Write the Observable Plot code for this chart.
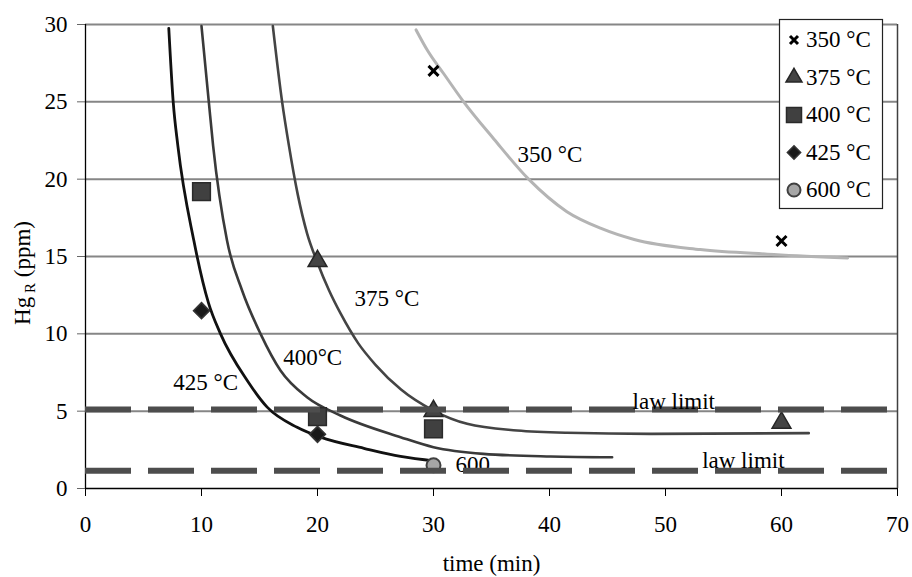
<!DOCTYPE html>
<html><head><meta charset="utf-8">
<script src="https://cdn.jsdelivr.net/npm/d3@7"></script>
<script src="https://cdn.jsdelivr.net/npm/@observablehq/plot@0.6"></script>
<style>
html,body{margin:0;padding:0;background:#fff;}
#chart{position:relative;width:912px;height:577px;}
</style></head><body><div id="chart"></div>
<script>
// ---- data ----
const seriesNames = ["350 °C", "375 °C", "400 °C", "425 °C", "600 °C"];
const t350 = [30, 60],        hg350 = [27.0, 16.0];
const t375 = [20, 30, 60],    hg375 = [14.7, 5.0, 4.25];
const t400 = [10, 20, 30],    hg400 = [19.2, 4.65, 3.85];
const t425 = [10, 20],        hg425 = [11.5, 3.5];
const t600 = [30],            hg600 = [1.5];

// fitted curves
const fit350T = [28.5, 29.5, 30.9, 32.6, 35.2, 38.2, 41.5, 44.5, 47.3, 53.0, 58.8, 65.7];
const fit350H = [29.65, 28.3, 26.8, 25.0, 22.6, 20.0, 17.9, 16.8, 16.1, 15.45, 15.15, 14.91];
const fit375T = [16.15, 16.95, 17.53, 18.3, 19.1, 20.0, 21.0, 22.0, 23.5, 25.0, 27.2, 30.0, 32.9, 37.2, 41.5, 48.7, 62.35];
const fit375H = [29.9, 25.0, 22.2, 19.0, 16.5, 14.6, 12.8, 11.3, 9.4, 8.0, 6.4, 5.04, 4.18, 3.75, 3.6, 3.53, 3.58];
const fit400T = [10.0, 10.63, 11.0, 12.2, 13.5, 15.09, 16.81, 19.1, 21.98, 27.16, 30.0, 34.3, 40.1, 45.4];
const fit400H = [29.9, 25.0, 22.17, 16.03, 12.8, 10.0, 7.63, 5.9, 4.72, 3.32, 2.67, 2.24, 2.07, 2.02];
const fit425T = [7.18, 7.56, 7.96, 9.34, 10.6, 11.64, 13.94, 15.66, 18.24, 20.26, 24.0, 27.16, 30.17];
const fit425H = [29.75, 25.0, 22.17, 16.03, 12.0, 10.0, 6.98, 5.26, 3.96, 3.32, 2.6, 2.07, 1.77];

const lawLimits = [5.1, 1.15];
const xTicks = [0, 10, 20, 30, 40, 50, 60, 70];
const yTicks = [0, 5, 10, 15, 20, 25, 30];

const curveLabelText = ["350 °C", "375 °C", "400°C", "425 °C", "600"];
const curveLabelT    = [37.24, 23.19, 17.04, 7.56, 31.9];
const curveLabelH    = [21.59, 12.28, 8.49, 6.87, 1.55];
const lawLabelText = ["law limit", "law limit"];
const lawLabelT    = [47.16, 53.16];
const lawLabelH    = [5.62, 1.81];

// ---- build ----
const zip = (ts, hs) => ts.map((t, i) => ({t, hg: hs[i]}));
const font = "'Liberation Serif','Times New Roman',serif";
const fs = "23px";
const curveLabels = curveLabelText.map((s, i) => ({s, t: curveLabelT[i], hg: curveLabelH[i]}));
const lawLabels = lawLabelText.map((s, i) => ({s, t: lawLabelT[i], hg: lawLabelH[i]}));

const plot = Plot.plot({
  width: 912, height: 577,
  marginLeft: 85, marginRight: 15, marginTop: 24, marginBottom: 89,
  style: {fontFamily: font, fontSize: fs, background: "#fff", color: "#000"},
  x: {domain: [0, 70]},
  y: {domain: [0, 30]},
  marks: [
    Plot.gridY(yTicks.filter(d => d > 0), {stroke: "#868686", strokeOpacity: 1, strokeWidth: 2}),
    Plot.ruleX([70], {stroke: "#404040", strokeWidth: 1.5}),
    Plot.axisY(yTicks, {tickSize: 8, tickPadding: 10, label: null, stroke: "#666"}),
    Plot.axisX(xTicks, {tickSize: 8, tickPadding: 19, label: null, stroke: "#000"}),
    Plot.ruleX([0], {stroke: "#000", strokeWidth: 1.3}),
    Plot.ruleY([0], {stroke: "#000", strokeWidth: 1.3}),
    Plot.line(zip(fit350T, fit350H), {x: "t", y: "hg", stroke: "#b4b4b4", strokeWidth: 3, curve: "monotone-x"}),
    Plot.line(zip(fit375T, fit375H), {x: "t", y: "hg", stroke: "#444", strokeWidth: 2.6, curve: "monotone-x"}),
    Plot.line(zip(fit400T, fit400H), {x: "t", y: "hg", stroke: "#3a3a3a", strokeWidth: 2.6, curve: "monotone-x"}),
    Plot.line(zip(fit425T, fit425H), {x: "t", y: "hg", stroke: "#111", strokeWidth: 2.8, curve: "monotone-x"}),
    Plot.text(curveLabels, {x: "t", y: "hg", text: "s", textAnchor: "start", lineAnchor: "middle", fill: "#000"}),
    Plot.dot(zip(t350, hg350), {x: "t", y: "hg", symbol: "times", r: 4.6, stroke: "#000", strokeWidth: 3}),
    Plot.dot(zip(t375, hg375), {x: "t", y: "hg", symbol: "triangle", r: 7, fill: "#444", stroke: "#262626", strokeWidth: 1.5}),
    Plot.dot(zip(t400, hg400), {x: "t", y: "hg", symbol: "square", r: 10, fill: "#404040", stroke: "#2a2a2a", strokeWidth: 1.5}),
    Plot.dot(zip(t425, hg425), {x: "t", y: "hg", symbol: "diamond2", r: 7.2, fill: "#1a1a1a", stroke: "#333", strokeWidth: 1.5}),
    Plot.dot(zip(t600, hg600), {x: "t", y: "hg", symbol: "circle", r: 7, fill: "#a6a6a6", stroke: "#404040", strokeWidth: 2}),
    Plot.ruleY(lawLimits, {stroke: "#4d4d4d", strokeWidth: 6, strokeDasharray: "46,17"}),
    Plot.text(lawLabels, {x: "t", y: "hg", text: "s", textAnchor: "start", lineAnchor: "middle", fill: "#000"}),
    Plot.text(["time (min)"], {frameAnchor: "bottom", dy: 75, lineAnchor: "middle", fill: "#000"})
  ]
});

document.getElementById("chart").appendChild(plot);
const svg = d3.select(plot);

// y axis title with subscript R
const yl = svg.append("text")
  .attr("transform", "translate(30,273) rotate(-90)")
  .attr("text-anchor", "middle")
  .attr("font-family", font).attr("font-size", fs).attr("fill", "#000");
yl.append("tspan").text("Hg");
yl.append("tspan").attr("font-size", "15px").attr("dy", "5").text(" R");
yl.append("tspan").attr("dy", "-5").text(" (ppm)");

// legend box
const legendSymbols = [
  {type: null, fill: "none", stroke: "#000", sw: 3},
  {type: d3.symbolTriangle, size: 111, fill: "#444", stroke: "#262626", sw: 1.5},
  {type: d3.symbolSquare, size: 225, fill: "#404040", stroke: "#2a2a2a", sw: 1.5},
  {type: d3.symbolDiamond2, size: 112, fill: "#1a1a1a", stroke: "#333", sw: 1.5},
  {type: d3.symbolCircle, size: 133, fill: "#a6a6a6", stroke: "#404040", sw: 2}
];
const lg = svg.append("g");
lg.append("rect").attr("x", 779.5).attr("y", 19.5).attr("width", 103).attr("height", 189)
  .attr("fill", "#fff").attr("stroke", "#222").attr("stroke-width", 1.2);
seriesNames.forEach((name, i) => {
  const cy = 40 + i * 37.5;
  const s = legendSymbols[i];
  const g = lg.append("g").attr("transform", `translate(794,${cy})`);
  if (s.type) {
    g.append("path").attr("d", d3.symbol(s.type, s.size)()).attr("fill", s.fill)
      .attr("stroke", s.stroke).attr("stroke-width", s.sw);
  } else {
    g.append("path").attr("d", "M-4,-4L4,4M-4,4L4,-4").attr("fill", "none")
      .attr("stroke", s.stroke).attr("stroke-width", s.sw);
  }
  lg.append("text").attr("x", 806).attr("y", cy).attr("dy", "0.32em")
    .attr("text-anchor", "start")
    .attr("font-family", font).attr("font-size", fs).attr("fill", "#000").text(name);
});
</script>
</body></html>
